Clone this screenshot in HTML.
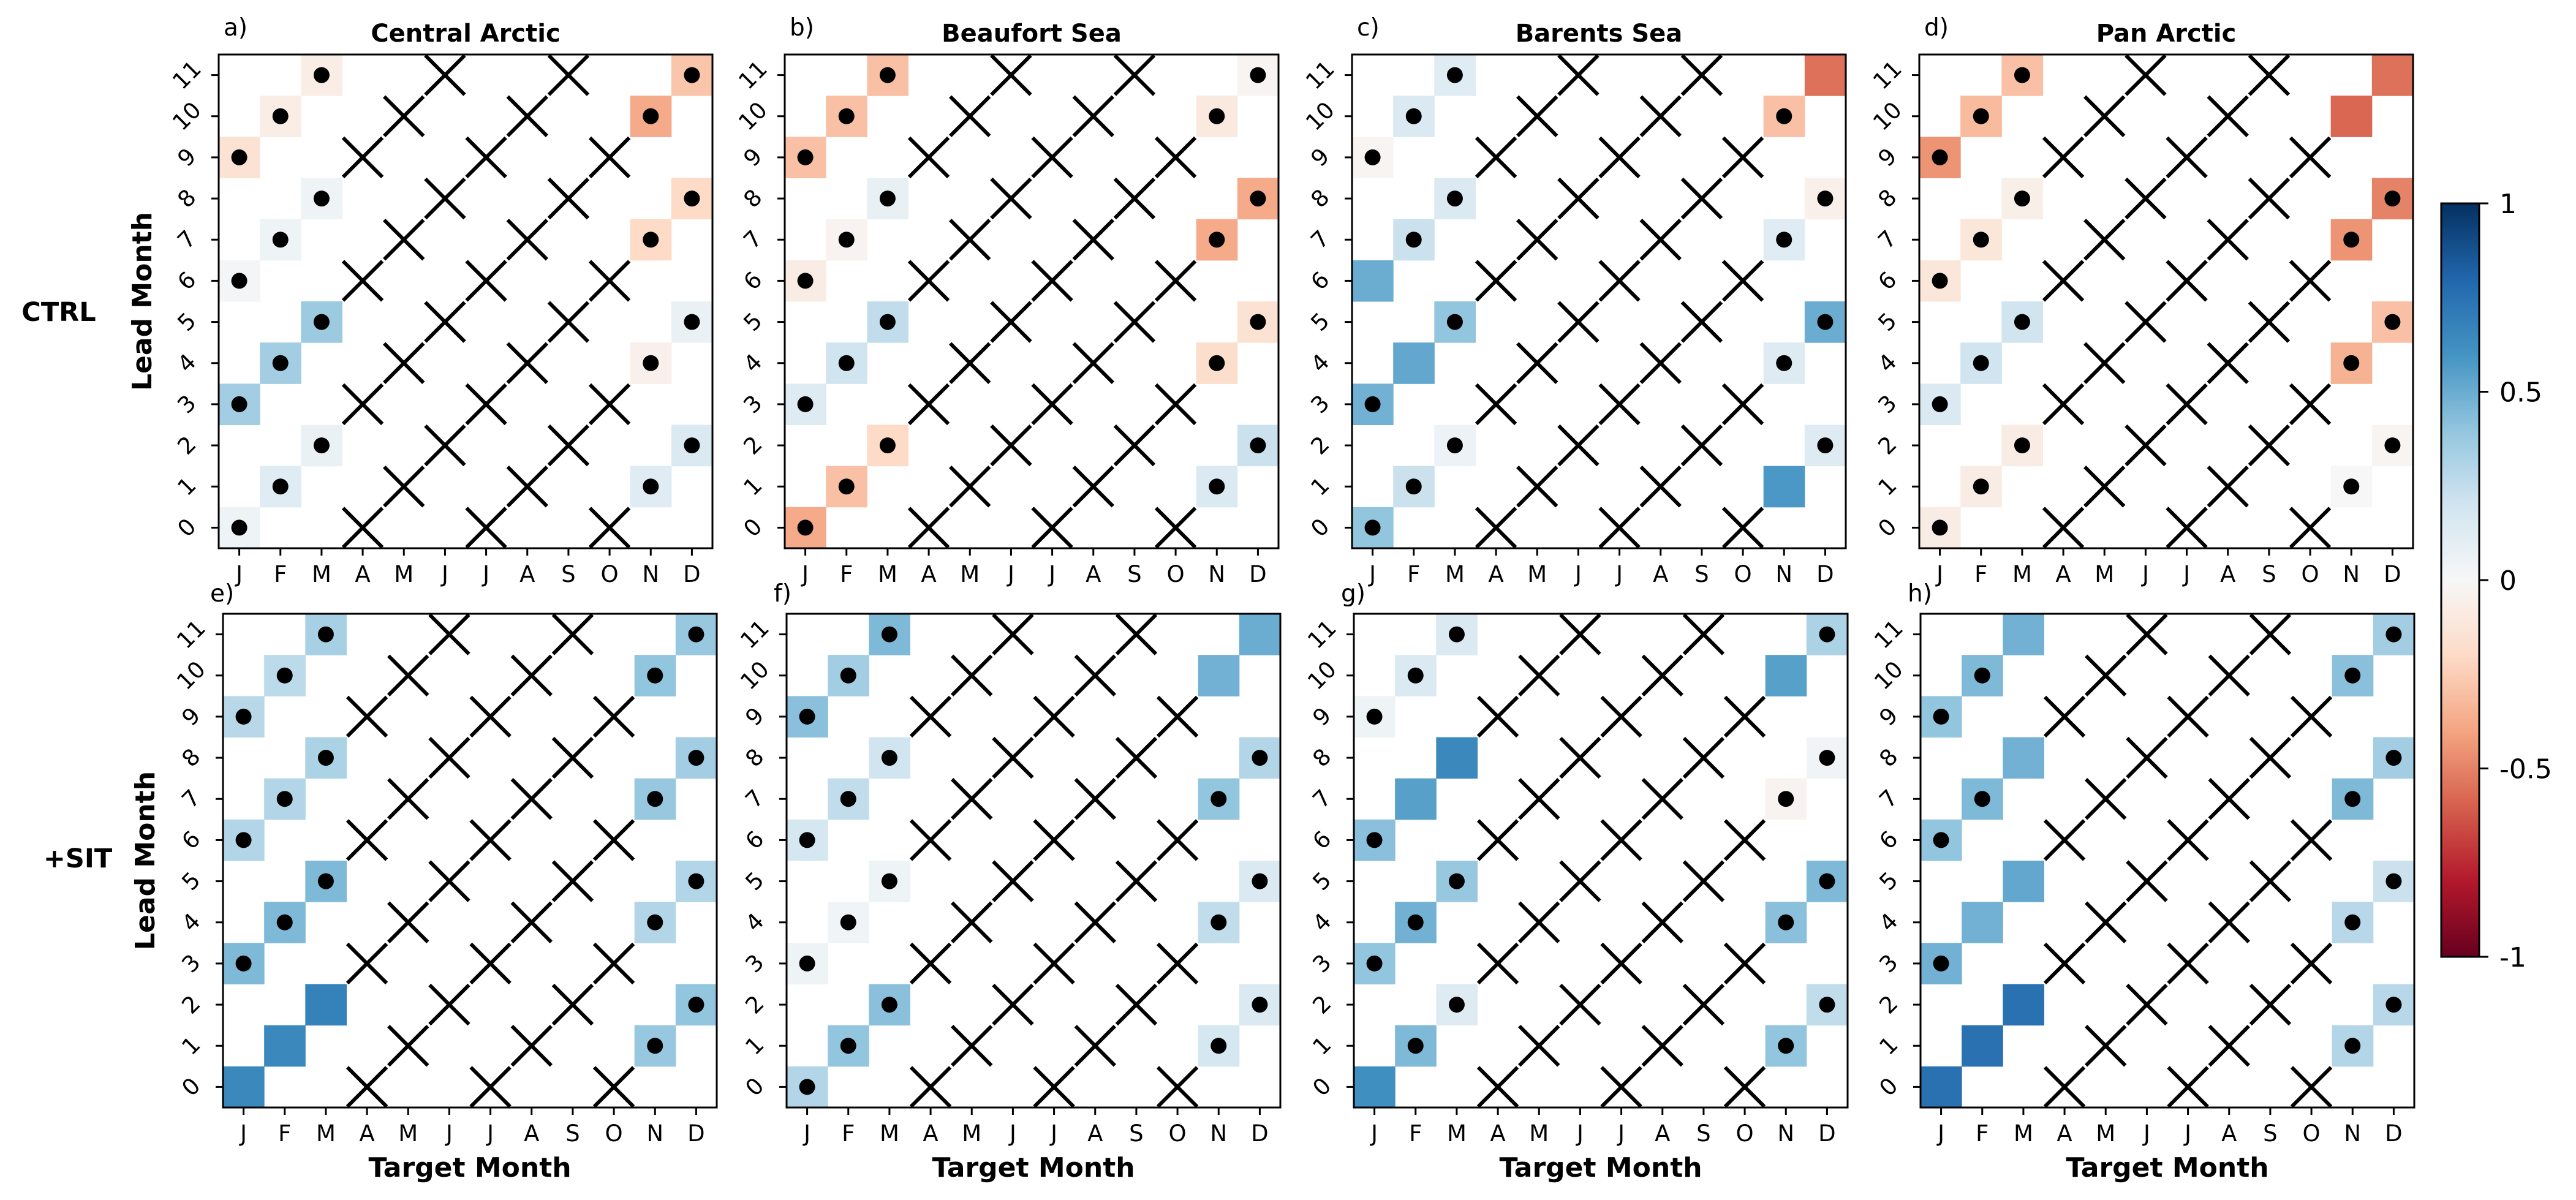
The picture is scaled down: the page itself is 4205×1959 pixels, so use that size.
<!DOCTYPE html>
<html><head><meta charset="utf-8"><style>
html,body{margin:0;padding:0;background:#fff;}
svg text{font-family:"DejaVu Sans","Liberation Sans",sans-serif;}
</style></head><body>
<svg id="fig" width="4205" height="1954" viewBox="0 0 4205 1954" xmlns="http://www.w3.org/2000/svg">
<defs>
<linearGradient id="cbgrad" x1="0" y1="1" x2="0" y2="0">
<stop offset="0" stop-color="#67001f"/><stop offset="0.1" stop-color="#b2182b"/><stop offset="0.2" stop-color="#d6604d"/><stop offset="0.3" stop-color="#f4a582"/><stop offset="0.4" stop-color="#fddbc7"/><stop offset="0.5" stop-color="#f7f7f7"/><stop offset="0.6" stop-color="#d1e5f0"/><stop offset="0.7" stop-color="#92c5de"/><stop offset="0.8" stop-color="#4393c3"/><stop offset="0.9" stop-color="#2166ac"/><stop offset="1" stop-color="#053061"/>
</linearGradient>
</defs>
</svg>
<script>
// categories
const months = ["J","F","M","A","M","J","J","A","S","O","N","D"];
const leadTicks = ["0","1","2","3","4","5","6","7","8","9","10","11"];
const initMonths = [0,3,6,9];
// cell order: J0,J3,J6,J9,F1,F4,F7,F10,M2,M5,M8,M11,N1,N4,N7,N10,D2,D5,D8,D11
const cellCol  = [0,0,0,0, 1,1,1,1, 2,2,2,2, 10,10,10,10, 11,11,11,11];
const cellLead = [0,3,6,9, 1,4,7,10, 2,5,8,11, 1,4,7,10, 2,5,8,11];
// values per panel
const ctrlCentral  = [0.05,0.35,0.02,-0.15, 0.12,0.35,0.05,-0.07, 0.07,0.37,0.05,-0.07, 0.12,-0.05,-0.2,-0.38, 0.15,0.07,-0.2,-0.28];
const ctrlBeaufort = [-0.38,0.13,-0.08,-0.3, -0.3,0.2,-0.03,-0.3, -0.2,0.25,0.08,-0.3, 0.15,-0.18,-0.38,-0.1, 0.22,-0.15,-0.38,-0.02];
const ctrlBarents  = [0.4,0.48,0.5,-0.02, 0.22,0.52,0.22,0.15, 0.06,0.4,0.15,0.12, 0.58,0.13,0.12,-0.3, 0.13,0.5,-0.05,-0.55];
const ctrlPan      = [-0.08,0.15,-0.12,-0.45, -0.08,0.2,-0.12,-0.32, -0.08,0.2,-0.06,-0.3, 0.0,-0.35,-0.45,-0.58, -0.02,-0.3,-0.5,-0.55];
const sitCentral   = [0.65,0.45,0.3,0.28, 0.65,0.45,0.3,0.27, 0.68,0.45,0.32,0.33, 0.38,0.3,0.38,0.4, 0.4,0.3,0.35,0.38];
const sitBeaufort  = [0.3,0.05,0.18,0.42, 0.4,0.03,0.25,0.35, 0.42,0.05,0.2,0.45, 0.18,0.25,0.4,0.48, 0.15,0.15,0.3,0.5];
const sitBarents   = [0.62,0.4,0.42,0.05, 0.45,0.48,0.55,0.15, 0.13,0.38,0.65,0.15, 0.4,0.42,-0.03,0.55, 0.25,0.45,0.03,0.32];
const sitPan       = [0.75,0.48,0.4,0.4, 0.75,0.48,0.45,0.45, 0.75,0.52,0.48,0.48, 0.3,0.28,0.45,0.42, 0.28,0.22,0.35,0.35];
// significance flags (1 = dot)
const sigCtrlCentral  = [1,1,1,1, 1,1,1,1, 1,1,1,1, 1,1,1,1, 1,1,1,1];
const sigCtrlBeaufort = [1,1,1,1, 1,1,1,1, 1,1,1,1, 1,1,1,1, 1,1,1,1];
const sigCtrlBarents  = [1,1,0,1, 1,0,1,1, 1,1,1,1, 0,1,1,1, 1,1,1,0];
const sigCtrlPan      = [1,1,1,1, 1,1,1,1, 1,1,1,1, 1,1,1,0, 1,1,1,0];
const sigSitCentral   = [0,1,1,1, 0,1,1,1, 0,1,1,1, 1,1,1,1, 1,1,1,1];
const sigSitBeaufort  = [1,1,1,1, 1,1,1,1, 1,1,1,1, 1,1,1,0, 1,1,1,0];
const sigSitBarents   = [0,1,1,1, 1,1,0,1, 1,1,0,1, 1,1,1,0, 1,1,1,1];
const sigSitPan       = [0,1,1,1, 0,0,1,1, 0,0,0,0, 1,1,1,1, 1,1,1,1];
const cbTicks = [1,0.5,0,-0.5,-1];
const cbTickLabels = ["1","0.5","0","-0.5","-1"];

const panels = [
 {lab:"a)",title:"Central Arctic",x:357,y:89,v:ctrlCentral,s:sigCtrlCentral,row:0},
 {lab:"b)",title:"Beaufort Sea",x:1281,y:89,v:ctrlBeaufort,s:sigCtrlBeaufort,row:0},
 {lab:"c)",title:"Barents Sea",x:2207,y:89,v:ctrlBarents,s:sigCtrlBarents,row:0},
 {lab:"d)",title:"Pan Arctic",x:3133,y:89,v:ctrlPan,s:sigCtrlPan,row:0},
 {lab:"e)",title:"",x:364,y:1002,v:sitCentral,s:sigSitCentral,row:1},
 {lab:"f)",title:"",x:1284,y:1002,v:sitBeaufort,s:sigSitBeaufort,row:1},
 {lab:"g)",title:"",x:2210,y:1002,v:sitBarents,s:sigSitBarents,row:1},
 {lab:"h)",title:"",x:3135,y:1002,v:sitPan,s:sigSitPan,row:1}
];
const W=806, H=806, C=W/12, RH=H/12;
const anchors=[[-1,[103,0,31]],[-0.8,[178,24,43]],[-0.6,[214,96,77]],[-0.4,[244,165,130]],[-0.2,[253,219,199]],[0,[247,247,247]],[0.2,[209,229,240]],[0.4,[146,197,222]],[0.6,[67,147,195]],[0.8,[33,102,172]],[1,[5,48,97]]];
function cmap(v){v=Math.max(-1,Math.min(1,v));for(let i=0;i<anchors.length-1;i++){const[a,ca]=anchors[i],[b,cb]=anchors[i+1];if(v>=a&&v<=b){const t=(v-a)/(b-a);return "rgb("+ca.map((c,k)=>Math.round(c+(cb[k]-c)*t)).join(",")+")";}}return "#f7f7f7";}
const svg=document.getElementById('fig');
const NS="http://www.w3.org/2000/svg";
function el(tag,attrs,parent){const e=document.createElementNS(NS,tag);for(const k in attrs)e.setAttribute(k,attrs[k]);(parent||svg).appendChild(e);return e;}
function txt(s,attrs,parent){const e=el('text',attrs,parent);e.textContent=s;return e;}

panels.forEach((p,pi)=>{
 const g=el('g',{});
 
 
 const xs=c=>p.x+c*C+C/2, ys=l=>p.y+H-(l+0.5)*RH;
 p.v.forEach((val,i)=>{
  const r=el('rect',{x:xs(cellCol[i])-C/2,y:ys(cellLead[i])-RH/2,width:C+0.5,height:RH+0.5,fill:cmap(val)},g);
  
  
 });
 for(let col=3;col<=9;col++){for(let l=0;l<12;l++){
  const init=((col-l)%12+12)%12;
  if(initMonths.indexOf(init)<0)continue;
  const cx=xs(col),cy=ys(l),hx=C/2-1.5,hy=RH/2-1.5;
  const m=el('path',{d:`M${cx-hx},${cy+hy}L${cx+hx},${cy-hy}M${cx-hx},${cy-hy}L${cx+hx},${cy+hy}`,stroke:'#000','stroke-width':6,fill:'none'},g);
  
  
 }}
 p.s.forEach((sg,i)=>{ if(!sg)return;
  const d=el('circle',{cx:xs(cellCol[i]),cy:ys(cellLead[i]),r:13,fill:'#000'},g);
  
  
 });
 const f=el('rect',{x:p.x,y:p.y,width:W,height:H,fill:'none',stroke:'#000','stroke-width':3},g);
 
 
 months.forEach((m,i)=>{
  el('line',{x1:xs(i),x2:xs(i),y1:p.y+H,y2:p.y+H+12,stroke:'#000','stroke-width':3},g);
  const t=txt(m,{x:xs(i),y:p.y+H+55,'text-anchor':'middle','font-size':37},g);
  
  
 });
 leadTicks.forEach((m,i)=>{
  el('line',{x1:p.x-12,x2:p.x,y1:ys(i),y2:ys(i),stroke:'#000','stroke-width':3},g);
  const t=txt(m,{x:0,y:0,'text-anchor':'middle','dominant-baseline':'central','font-size':37,transform:`translate(${p.x-52},${ys(i)}) rotate(-45)`},g);
  
  
 });
 const lb=txt(p.lab,{x:p.row?p.x-21:p.x+8,y:p.row?p.y-20:p.y-31,'font-size':39},g);
 
 
 if(p.title){const tt=txt(p.title,{x:p.x+W/2,y:p.y-21,'text-anchor':'middle','font-size':40,'font-weight':'bold'},g);
  
  }
 if(p.row===1){const xl=txt('Target Month',{x:p.x+W/2,y:1921,'text-anchor':'middle','font-size':44,'font-weight':'bold'},g);
  
  }
 if(pi===0||pi===4){const yl=txt('Lead Month',{x:0,y:0,'text-anchor':'middle','font-size':44,'font-weight':'bold',transform:`translate(${pi===0?247:252},${p.y+H/2}) rotate(-90)`},g);
  
  
  const rl=txt(pi===0?'CTRL':'+SIT',{x:pi===0?96:127,y:pi===0?524:1416,'text-anchor':'middle','font-size':43,'font-weight':'bold'},g);
  
  }
});
const cb={x:3985,y:332,w:62,h:1230};
const cbg=el('g',{});


el('rect',{x:cb.x,y:cb.y,width:cb.w,height:cb.h,fill:'url(#cbgrad)',stroke:'#000','stroke-width':3},cbg);
cbTicks.forEach((v,i)=>{
 const y=cb.y+(1-v)/2*cb.h;
 el('line',{x1:cb.x+cb.w,x2:cb.x+cb.w+15,y1:y,y2:y,stroke:'#000','stroke-width':3},cbg);
 const t=txt(cbTickLabels[i],{x:cb.x+cb.w+33,y:y+16,'font-size':44},cbg);
 
 
});
</script>
</body></html>
